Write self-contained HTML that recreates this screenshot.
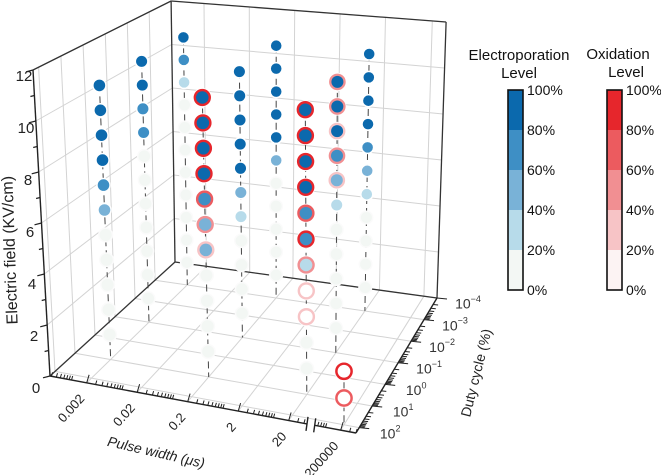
<!DOCTYPE html>
<html><head><meta charset="utf-8"><style>
html,body{margin:0;padding:0;background:#fff;}
svg{display:block;font-family:"Liberation Sans",sans-serif;}
</style></head><body>
<svg id="chart" width="661" height="475" viewBox="0 0 661 475" xmlns="http://www.w3.org/2000/svg">
<g id="grid"></g>
<g id="box"></g>
<g id="axes"></g>
<g id="marks"></g>
<text x="15" y="250" font-size="16" fill="#222" text-anchor="middle" transform="rotate(-92 15 250)">Electric field (KV/cm)</text>
<text x="156" y="457" font-size="14" font-style="italic" fill="#222" text-anchor="middle" transform="rotate(13 156 453)">Pulse width (μs)</text>
<text x="477" y="377" font-size="14" fill="#222" text-anchor="middle" transform="rotate(-76 477 373)">Duty cycle (%)</text>
<g id="legendE">
<text x="519" y="60" font-size="15" fill="#111" text-anchor="middle">Electroporation</text>
<text x="519" y="78" font-size="15" fill="#111" text-anchor="middle">Level</text>
</g>
<g id="legendO">
<text x="618" y="59" font-size="15" fill="#111" text-anchor="middle">Oxidation</text>
<text x="626" y="77" font-size="15" fill="#111" text-anchor="middle">Level</text>
</g>
</svg>
<script>
// ---- data ----
const colPulse = [0.002, 0.002, 0.002, 0.2, 0.2, 0.2, 20, 20, 20, 200000];
const colDuty = [10, 0.1, 0.001, 10, 0.1, 0.001, 10, 0.1, 0.001, 100];
const colFields = [
  [11,10,9,8,7,6,5,4,3,2,1],[11,10,9,8,7,6,5,4,3,2,1],[11,10,9,8,7,6,5,4,3,2,1],
  [11,10,9,8,7,6,5,4,3,2,1],[11,10,9,8,7,6,5,4,3,2,1],[11,10,9,8,7,6,5,4,3,2,1],
  [11,10,9,8,7,6,5,4,3,2,1],[11,10,9,8,7,6,5,4,3,2,1],[11,10,9,8,7,6,5,4,3,2,1],
  [2,1]
];
const colElectro = [
  [90,90,90,90,70,50,5,5,5,5,5],
  [90,90,70,70,5,5,5,5,5,5,5],
  [90,70,30,5,5,5,5,5,5,5,5],
  [90,90,90,90,70,50,50,5,5,5,5],
  [90,90,90,90,90,50,30,5,5,5,5],
  [90,90,90,90,90,50,5,5,5,5,5],
  [90,90,90,90,70,70,30,5,5,5,5],
  [90,90,90,70,50,30,5,5,5,5,5],
  [90,90,90,90,70,50,30,5,5,5,5],
  [5,5]
];
const colOxid = [
  [0,0,0,0,0,0,0,0,0,0,0],
  [0,0,0,0,0,0,0,0,0,0,0],
  [0,0,0,0,0,0,0,0,0,0,0],
  [90,90,90,90,70,50,30,0,0,0,0],
  [0,0,0,0,0,0,0,0,0,0,0],
  [0,0,0,0,0,0,0,0,0,0,0],
  [90,90,90,90,70,80,50,30,30,0,0],
  [40,40,30,40,30,0,0,0,0,0,0],
  [0,0,0,0,0,0,0,0,0,0,0],
  [90,70]
];
const pwTicks = [0.002, 0.02, 0.2, 2, 20, 200000];
const pwTickLabels = ["0.002","0.02","0.2","2","20","200000"];
const dutyTicks = [100, 10, 1, 0.1, 0.01, 0.001, 0.0001];
const dutyTickLabels = ["2","1","0","-1","-2","-3","-4"];
const fieldTicks = [0,2,4,6,8,10,12];
const legendLevels = [100,80,60,40,20,0];

const blueBins = ["#f3f7f4","#b7dbea","#79b2d7","#3e8fc5","#0b69ad"];
const redBins = ["#fcf3f3","#f7c4c6","#f18f92","#ec5b5f","#e6262c"];

// ---- projection ----
const P00=[50,376], P10=[356,433], P01=[175,262], P11=[437,298];
const S00=25.5, S10=27, S01=21.75, S11=23;
const T00=0.0556, T10=0.0, T01=0.015, T11=-0.033;
function bil(a,b,c,d,u,v){return (1-u)*(1-v)*a+u*(1-v)*b+(1-u)*v*c+u*v*d;}
function uPw(pw){ if(pw>=1000) return 0.95+0.165*Math.log10(pw/200000); return 0.12+0.165*Math.log10(pw/0.002); }
function vDuty(d){ return 0.04+0.16*(2-Math.log10(d)); }
function proj(u,v,E){
  const bx=bil(P00[0],P10[0],P01[0],P11[0],u,v), by=bil(P00[1],P10[1],P01[1],P11[1],u,v);
  const s=bil(S00,S10,S01,S11,u,v), t=bil(T00,T10,T01,T11,u,v);
  const h=E*s; return [bx-t*h, by-h];
}
function bin(l){return Math.min(4,Math.floor(l/20));}
const NS="http://www.w3.org/2000/svg";
function mk(parent,tag,attrs,txt){const e=document.createElementNS(NS,tag);for(const k in attrs)e.setAttribute(k,attrs[k]);if(txt!==undefined)e.textContent=txt;parent.appendChild(e);return e;}
function line(parent,a,b,st,w,dash){const o={x1:a[0].toFixed(1),y1:a[1].toFixed(1),x2:b[0].toFixed(1),y2:b[1].toFixed(1),stroke:st,"stroke-width":w};if(dash)o["stroke-dasharray"]=dash;return mk(parent,"line",o);}

const grid=document.getElementById("grid"), box=document.getElementById("box"), axes=document.getElementById("axes"), marks=document.getElementById("marks");
const GC="#d3d3d3";
pwTicks.forEach(p=>{const u=uPw(p);
  let g=line(grid,proj(u,0,0),proj(u,1,0),GC,1);
  
  
  g=line(grid,proj(u,1,0),proj(u,1,12),GC,1);
  
  
});
dutyTicks.forEach(d=>{const v=vDuty(d);
  let g=line(grid,proj(0,v,0),proj(1,v,0),GC,1);
  
  
  g=line(grid,proj(0,v,0),proj(0,v,12),GC,1);
  
  
});
fieldTicks.forEach(E=>{ if(E===0) return;
  let g=line(grid,proj(0,1,E),proj(1,1,E),GC,1);
  
  
  g=line(grid,proj(0,0,E),proj(0,1,E),GC,1);
  
  
});
const BC="#333";
[[[0,1,0],[0,1,12]],[[1,1,0],[1,1,12]],[[0,1,12],[1,1,12]],[[0,0,12],[0,1,12]],[[0,0,0],[0,1,0]],[[0,1,0],[1,1,0]]].forEach(e=>{
  const b=line(box,proj(...e[0]),proj(...e[1]),BC,1.3);
  
  
});
let ya=line(axes,proj(0,0,0),proj(0,0,12),"#222",1.4);


for(let E=0;E<=12;E++){const p=proj(0,0,E);const L=(E%2===0)?7:4;
  const tk=line(axes,p,[p[0]-L,p[1]+L*0.25],"#222",1.2);
  
  
}
fieldTicks.forEach(E=>{const p=proj(0,0,E);const f=1-E/12;
  const t=mk(axes,"text",{x:(p[0]-9-5*f).toFixed(1),y:(p[1]+7+6*f).toFixed(1),"font-size":15,fill:"#222","text-anchor":"middle","dominant-baseline":"middle"},String(E));
  
  
});
let xa=line(axes,proj(0,0,0),proj(0.84,0,0),"#222",1.4);


let xb=line(axes,proj(0.865,0,0),proj(1,0,0),"#222",1.4);


[0.84,0.865].forEach(u=>{const p=proj(u,0,0);
  const b=line(axes,[p[0]-1,p[1]+7],[p[0]+1,p[1]-7],"#222",1.4);
  
  
});
for(let n=-4;n<=2;n++){for(let k=1;k<=9;k++){const pw=k*Math.pow(10,n);const u=uPw(pw);if(u<0||u>0.835)continue;
  const p=proj(u,0,0);const L=(k===2&&[0.002,0.02,0.2,2,20].some(x=>Math.abs(x-pw)<1e-12))?8:4;
  const tk=line(axes,p,[p[0]+0.3*L,p[1]-L],"#222",1);
  
  
}}
for(let n=4;n<=6;n++){for(let k=1;k<=9;k++){const pw=k*Math.pow(10,n);const u=uPw(pw);if(u<0.87||u>1)continue;
  const p=proj(u,0,0);const L=(Math.abs(pw-200000)<1)?8:4;
  const tk=line(axes,p,[p[0]+0.3*L,p[1]-L],"#222",1);
  
  
}}
pwTicks.forEach((pw,i)=>{const p=proj(uPw(pw),0,0);const x=p[0]-4,y=p[1]+14;
  const t=mk(axes,"text",{x:x.toFixed(1),y:y.toFixed(1),"font-size":13,fill:"#222","text-anchor":"end","dominant-baseline":"middle",transform:`rotate(-48 ${x.toFixed(1)} ${y.toFixed(1)})`},pwTickLabels[i]);
  
  
});
let da=line(axes,proj(1,0,0),proj(1,1,0),"#222",1.4);


for(let n=-5;n<=2;n++){for(let k=1;k<=9;k++){const d=k*Math.pow(10,n);const v=vDuty(d);if(v<0||v>1.001)continue;
  const p=proj(1,v,0);const L=(k===1)?10:5;
  const tk=line(axes,p,[p[0]+L,p[1]+L*0.1],"#222",1);
  
  
}}
dutyTicks.forEach((d,i)=>{const p=proj(1,vDuty(d),0);const x=p[0]+31,y=p[1]+7;
  const t=mk(axes,"text",{x:x.toFixed(1),y:y.toFixed(1),"font-size":14,fill:"#333","text-anchor":"middle","dominant-baseline":"middle"});
  t.appendChild(document.createTextNode("10"));
  const s=document.createElementNS(NS,"tspan");s.setAttribute("font-size","9");s.setAttribute("dy","-5");
  s.textContent=(dutyTickLabels[i].startsWith("-")?"\u2212"+dutyTickLabels[i].slice(1):dutyTickLabels[i]);
  t.appendChild(s);
  
  
});
const order=colPulse.map((_,i)=>i).sort((a,b)=>vDuty(colDuty[a])===vDuty(colDuty[b])?uPw(colPulse[a])-uPw(colPulse[b]):vDuty(colDuty[a])-vDuty(colDuty[b])).reverse();
order.forEach(i=>{
  const u=uPw(colPulse[i]), v=vDuty(colDuty[i]);
  const g=mk(marks,"g",{});
  
  
  const Es=colFields[i];const top=Math.max(...Es);
  const dl=line(g,proj(u,v,top),proj(u,v,0),"#444",1,"7,4");
  
  
  const k=1-0.12*v;
  Es.forEach((E,j)=>{const p=proj(u,v,E);const el=colElectro[i][j], ox=colOxid[i][j];
    const eb=bin(el), ob=bin(ox);
    if(ob>0){
      const r=mk(g,"circle",{cx:p[0].toFixed(1),cy:p[1].toFixed(1),r:(9.3*k).toFixed(2),fill:redBins[ob],stroke:"#fff","stroke-width":0.8});
      
      
      const c=mk(g,"circle",{cx:p[0].toFixed(1),cy:p[1].toFixed(1),r:(6.4*k).toFixed(2),fill:eb===0?"#fff":blueBins[eb]});
      
      
    } else {
      const c=mk(g,"circle",{cx:p[0].toFixed(1),cy:p[1].toFixed(1),r:(eb===0?7:6.7)*k,fill:blueBins[eb],stroke:eb===0?"#fbfbfb":"#fff","stroke-width":1.5});
      
      
    }
  });
});
function legend(gid,x,bins,nm){const g=document.getElementById(gid);const y0=90,h=200,w=15;
  for(let b=0;b<5;b++){const r=mk(g,"rect",{x:x,y:y0+h-(b+1)*40,width:w,height:40,fill:bins[b]});
    
    }
  const fr=mk(g,"rect",{x:x,y:y0,width:w,height:h,fill:"none",stroke:"#111","stroke-width":1.6});
  
  
  legendLevels.forEach(l=>{const y=y0+h-l*2;
    const t=mk(g,"text",{x:x+w+4,y:y+5,"font-size":14,fill:"#111"},l+"%");
    
    });
}
legend("legendE",508,blueBins,"electroporation-legend");
legend("legendO",607,redBins,"oxidation-legend");
</script>
</body></html>
